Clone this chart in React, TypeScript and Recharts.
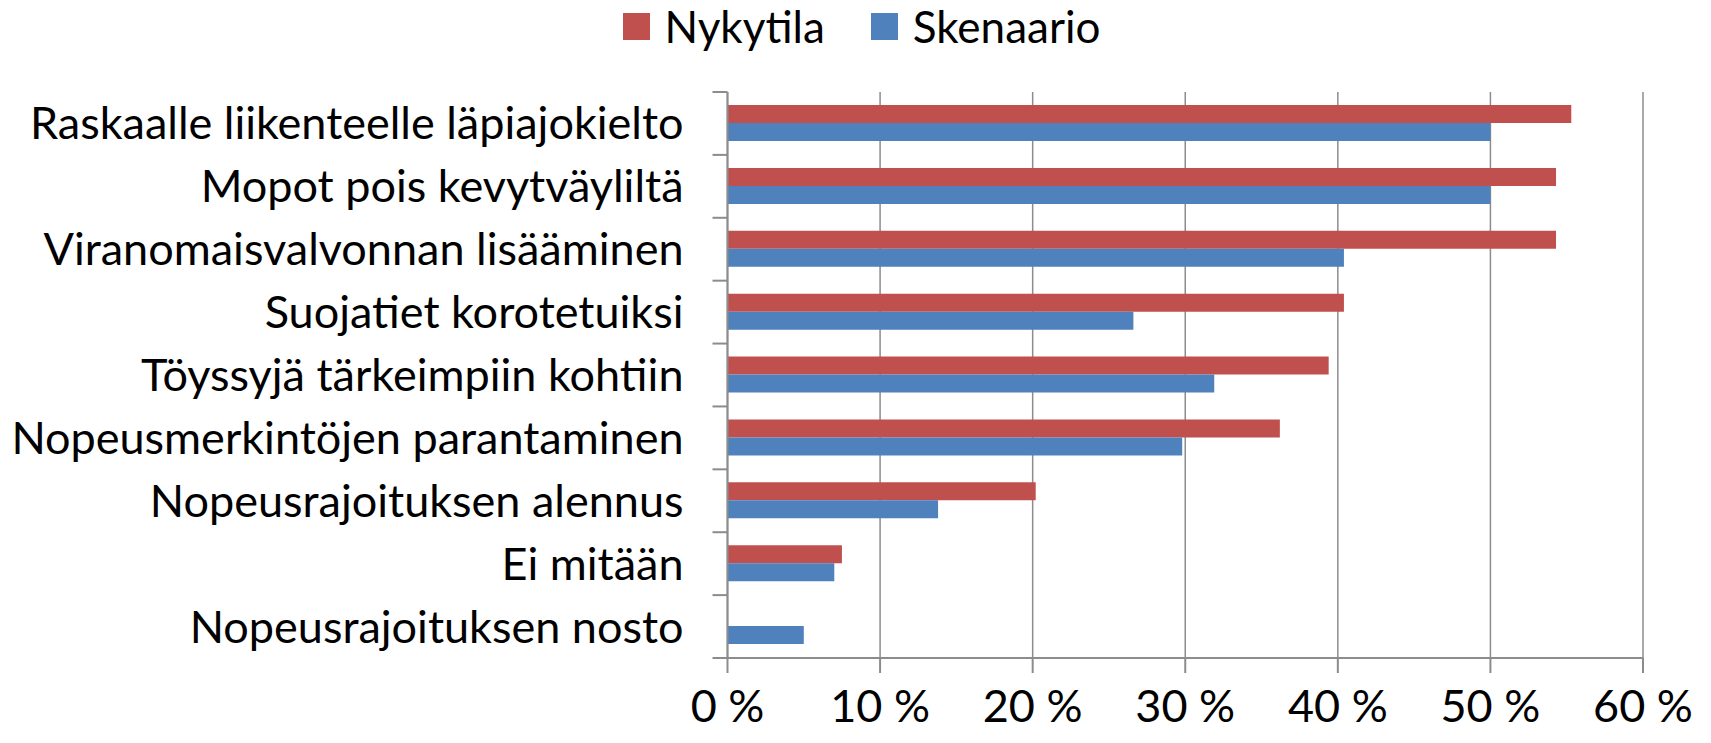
import React from "react";
import { BarChart, Bar, XAxis, YAxis, CartesianGrid, Legend } from "recharts";

const categories = [
  "Raskaalle liikenteelle läpiajokielto",
  "Mopot pois kevytväyliltä",
  "Viranomaisvalvonnan lisääminen",
  "Suojatiet korotetuiksi",
  "Töyssyjä tärkeimpiin kohtiin",
  "Nopeusmerkintöjen parantaminen",
  "Nopeusrajoituksen alennus",
  "Ei mitään",
  "Nopeusrajoituksen nosto",
];
const nykytila = [55.3, 54.3, 54.3, 40.4, 39.4, 36.2, 20.2, 7.5, 0];
const skenaario = [50.0, 50.0, 40.4, 26.6, 31.9, 29.8, 13.8, 7.0, 5.0];
const xTicks = [0, 10, 20, 30, 40, 50, 60];
const seriesNames = ["Nykytila", "Skenaario"];
const colors = ["#C0504D", "#4F81BD"];

const data = categories.map((c, i) => ({
  name: c,
  nykytila: nykytila[i],
  skenaario: skenaario[i],
}));

const FONT = "Lato, 'Liberation Sans', sans-serif";
const FS = 45;
const AXIS = "#8c8c8c";
const TICK_SIZE = 15;
const TICK_MARGIN = 29;

const LegendContent = () => (
  <div
    style={{
      display: "flex",
      justifyContent: "center",
      alignItems: "center",
      height: 52,
      fontFamily: FONT,
      fontSize: 44,
      color: "#000",
      paddingLeft: 12,
    }}
  >
    {seriesNames.map((n, i) => (
      <div key={n} style={{ display: "flex", alignItems: "center", marginRight: i === 0 ? 46 : 0 }}>
        <span style={{ width: 27, height: 27, background: colors[i], display: "inline-block", marginRight: 15 }} />
        <span style={{ lineHeight: 1 }}>{n}</span>
      </div>
    ))}
  </div>
);

const CategoryTick = (props: any) => {
  const { x, y, payload, index, visibleTicksCount } = props;
  const half = payload.offset || 0;
  const lx2 = x + TICK_MARGIN + TICK_SIZE;
  const lx1 = x + TICK_MARGIN;
  const isLast = index === visibleTicksCount - 1;
  return (
    <g>
      <line x1={lx1} x2={lx2} y1={y - half} y2={y - half} stroke={AXIS} strokeWidth={2} />
      {isLast && <line x1={lx1} x2={lx2} y1={y + half} y2={y + half} stroke={AXIS} strokeWidth={2} />}
      <text x={x} y={y} dy="0.355em" textAnchor="end" fill="#000" fontSize={FS} fontFamily={FONT}>
        {payload.value}
      </text>
    </g>
  );
};

export default function App() {
  return (
    <div style={{ position: "absolute", left: 0, top: 0, width: 1711, height: 743, background: "#fff" }}>
      <BarChart
        width={1711}
        height={743}
        data={data}
        layout="vertical"
        barSize={18}
        barGap={0}
        margin={{ top: 0, right: 68, bottom: 0, left: 0 }}
      >
        <Legend
          verticalAlign="top"
          height={92}
          content={<LegendContent />}
          wrapperStyle={{ top: 0, left: 0, width: 1711, height: 92 }}
        />
        <CartesianGrid horizontal={false} stroke={AXIS} strokeWidth={1.5} />
        <XAxis
          type="number"
          dataKey="nykytila"
          domain={[0, 60]}
          ticks={xTicks}
          tickFormatter={(v) => `${v} %`}
          height={85}
          tickSize={TICK_SIZE}
          tickMargin={17}
          stroke={AXIS}
          axisLine={{ stroke: AXIS, strokeWidth: 2 }}
          tickLine={{ stroke: AXIS, strokeWidth: 2 }}
          tick={{ fill: "#000", fontSize: FS, fontFamily: FONT }}
          interval={0}
        />
        <YAxis
          type="category"
          dataKey="name"
          width={727.5}
          tickSize={TICK_SIZE}
          tickMargin={TICK_MARGIN}
          axisLine={{ stroke: AXIS, strokeWidth: 2 }}
          tickLine={false}
          tick={<CategoryTick />}
          interval={0}
        />
        <Bar dataKey="nykytila" name={seriesNames[0]} fill={colors[0]} isAnimationActive={false} />
        <Bar dataKey="skenaario" name={seriesNames[1]} fill={colors[1]} isAnimationActive={false} />
      </BarChart>
    </div>
  );
}
